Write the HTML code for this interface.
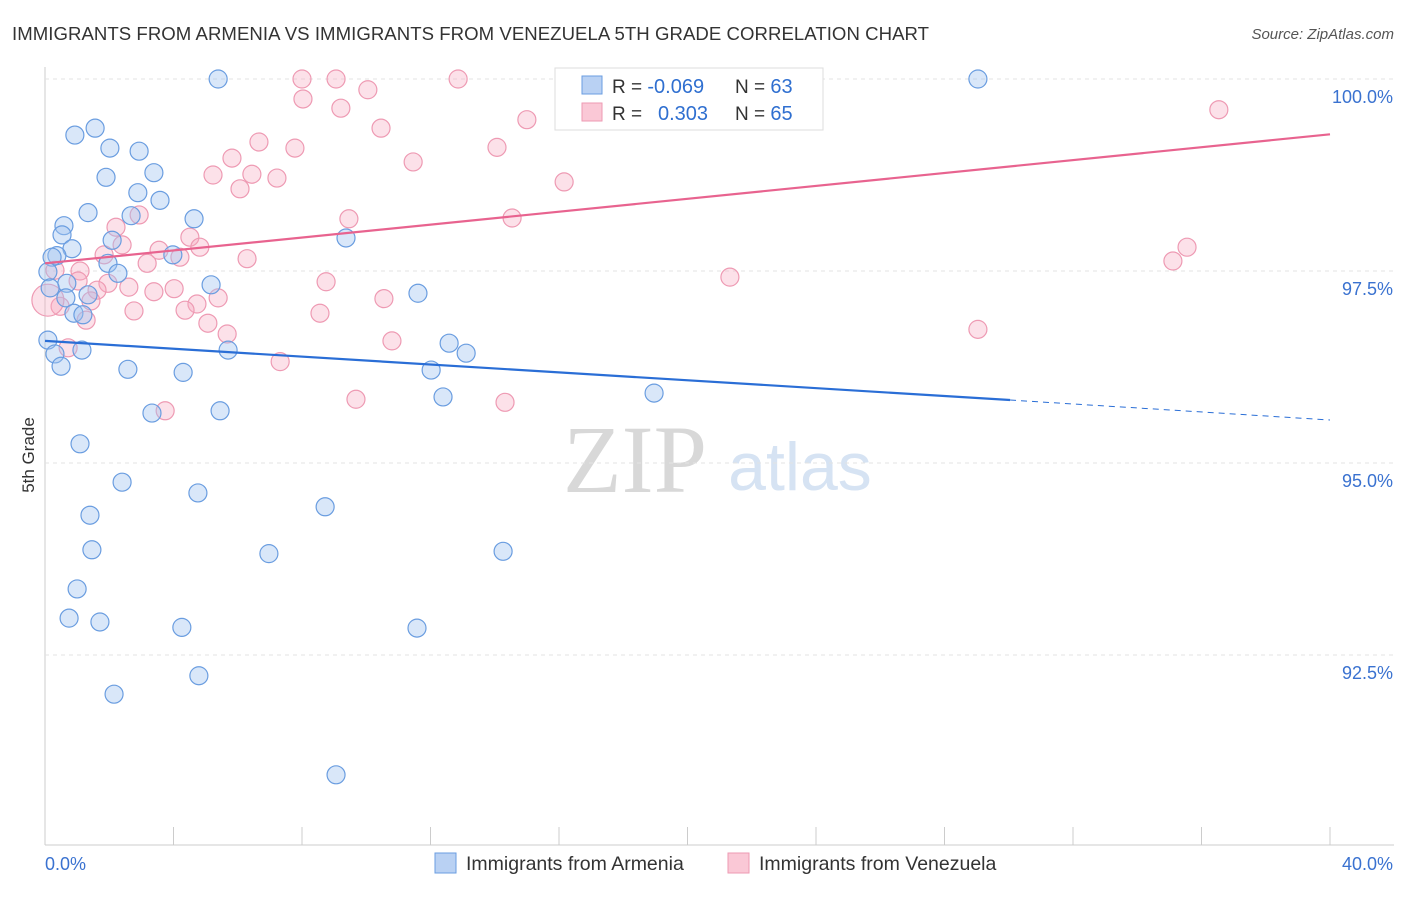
<!DOCTYPE html>
<html><head><meta charset="utf-8"><style>
body{margin:0;background:#fff;font-family:"Liberation Sans",sans-serif}
#wrap{position:relative;width:1406px;height:892px}
</style></head><body>
<div id="wrap">
<svg id="svg" width="1406" height="892" xmlns="http://www.w3.org/2000/svg">
<text x="12" y="40" font-size="18.6" fill="#333" textLength="917">IMMIGRANTS FROM ARMENIA VS IMMIGRANTS FROM VENEZUELA 5TH GRADE CORRELATION CHART</text>
<text x="1394" y="39" font-size="15" fill="#555" font-style="italic" text-anchor="end">Source: ZipAtlas.com</text>
<text x="34" y="455" font-size="17" fill="#333" text-anchor="middle" transform="rotate(-90 34 455)">5th Grade</text>
<text x="635" y="492" font-size="96" fill="#d8d8d8" font-family="Liberation Serif,serif" text-anchor="middle">ZIP</text>
<text x="800" y="490" font-size="68" fill="#d6e3f3" text-anchor="middle">atlas</text>
<g id="grid"></g><g id="pts"></g><g id="trend"></g>
<g>
<rect x="555" y="68" width="268" height="62" fill="#fff" stroke="#ddd"/>
<rect x="582" y="76" width="20" height="18" fill="#b9d1f3" stroke="#6a9de0"/>
<rect x="582" y="103" width="20" height="18" fill="#fac8d6" stroke="#ee9ab3"/>
<text x="612" y="93" font-size="19" fill="#333">R = <tspan fill="#2f6fd0" font-size="20">-0.069</tspan></text>
<text x="735" y="93" font-size="19" fill="#333">N = <tspan fill="#2f6fd0" font-size="20">63</tspan></text>
<text x="612" y="120" font-size="19" fill="#333">R = <tspan fill="#2f6fd0" x="658" font-size="20">0.303</tspan></text>
<text x="735" y="120" font-size="19" fill="#333">N = <tspan fill="#2f6fd0" font-size="20">65</tspan></text>
</g>
<g>
<rect x="435" y="853" width="21" height="20" fill="#b9d1f3" stroke="#6a9de0"/>
<text x="466" y="870" font-size="19.5" fill="#333">Immigrants from Armenia</text>
<rect x="728" y="853" width="21" height="20" fill="#fac8d6" stroke="#ee9ab3"/>
<text x="759" y="870" font-size="19.5" fill="#333">Immigrants from Venezuela</text>
</g>
</svg></div>
<script>
const blueX=[5.39,29.04,1.56,0.93,2.02,2.93,1.90,3.39,2.89,3.58,1.34,2.68,4.64,0.59,0.53,0.84,9.37,2.09,0.37,0.22,3.98,1.96,2.27,0.09,0.68,5.17,0.16,11.61,0.65,1.34,0.90,1.18,0.09,12.58,13.11,5.70,1.15,0.31,0.50,2.58,4.30,12.02,12.39,18.96,3.33,5.45,1.09,2.40,4.76,8.72,1.40,6.97,1.46,14.26,1.00,0.75,1.71,4.26,11.58,2.15,4.79,9.06];
const blueY=[100,100,99.36,99.27,99.10,99.06,98.72,98.78,98.52,98.42,98.26,98.22,98.18,98.09,97.97,97.79,97.93,97.90,97.70,97.68,97.71,97.60,97.47,97.49,97.34,97.32,97.28,97.21,97.15,97.19,96.95,96.93,96.60,96.56,96.43,96.47,96.47,96.42,96.26,96.22,96.18,96.21,95.86,95.91,95.65,95.68,95.25,94.75,94.61,94.43,94.32,93.82,93.87,93.85,93.36,92.98,92.93,92.86,92.85,91.99,92.23,90.94];
const pinkX=[8.00,9.06,12.86,21.95,8.03,9.21,10.05,36.54,15.00,10.46,6.66,7.78,14.07,5.82,11.46,5.23,6.44,7.22,6.07,16.16,2.93,9.46,14.54,2.21,4.51,2.40,3.55,4.82,1.84,4.20,3.18,6.29,35.55,35.11,1.09,0.31,1.03,1.96,1.62,8.75,21.32,3.39,4.02,2.61,5.39,10.55,1.43,4.73,0.47,4.36,2.77,8.56,1.28,5.07,5.67,29.04,10.80,0.72,7.32,9.68,14.32,3.74,0.09];
const pinkY=[100,100,100,100,99.74,99.62,99.86,99.60,99.47,99.36,99.18,99.10,99.11,98.97,98.92,98.75,98.76,98.71,98.57,98.66,98.23,98.18,98.19,98.07,97.94,97.84,97.77,97.81,97.71,97.68,97.60,97.66,97.81,97.63,97.50,97.51,97.37,97.34,97.25,97.36,97.42,97.23,97.27,97.29,97.15,97.14,97.11,97.07,97.04,96.99,96.98,96.95,96.86,96.82,96.68,96.74,96.59,96.50,96.32,95.83,95.79,95.68,97.12];
const yTicks=[100,97.5,95,92.5];
const yTickLabels=["100.0%","97.5%","95.0%","92.5%"];
const blueTrend=[[0,96.59],[30.04,95.82],[40,95.56]];
const pinkTrend=[[0,97.60],[40,99.28]];
const X0=45,X1=1330,Ytop=79,Ybot=845;
const xs=v=>X0+(v/40)*(X1-X0);
const ys=v=>Ytop+(100-v)*76.8;
const NS="http://www.w3.org/2000/svg";
function mk(t,a,p){const e=document.createElementNS(NS,t);for(const k in a)e.setAttribute(k,a[k]);p.appendChild(e);return e;}
const grid=document.getElementById('grid');
mk('line',{x1:X0,y1:Ytop-12,x2:X0,y2:Ybot,stroke:'#ccc'},grid);
mk('line',{x1:X0,y1:Ybot,x2:1394,y2:Ybot,stroke:'#ccc'},grid);
for(let i=0;i<=10;i++){const x=X0+i*(X1-X0)/10;const l=mk('line',{x1:x,y1:Ybot,x2:x,y2:Ybot-18,stroke:'#ccc'},grid);

}
yTicks.forEach((v,i)=>{const l=mk('line',{x1:X0,y1:ys(v),x2:1394,y2:ys(v),stroke:'#e3e3e3','stroke-dasharray':'4,4'},grid);


const t=mk('text',{x:1393,y:ys(v)+24,'font-size':18,fill:'#3a72d0','text-anchor':'end'},grid);t.textContent=yTickLabels[i];

});
const t0=mk('text',{x:45,y:870,'font-size':18,fill:'#3a72d0'},grid);t0.textContent='0.0%';


const t1=mk('text',{x:1393,y:870,'font-size':18,fill:'#3a72d0','text-anchor':'end'},grid);t1.textContent='40.0%';


const pts=document.getElementById('pts');
pinkX.forEach((x,i)=>{const c=mk('circle',{cx:xs(x),cy:ys(pinkY[i]),r:i==pinkX.length-1?16:9,fill:'rgba(246,170,192,0.35)',stroke:'#ee9ab3','stroke-width':1.2},pts);

});
blueX.forEach((x,i)=>{const c=mk('circle',{cx:xs(x),cy:ys(blueY[i]),r:9,fill:'rgba(160,195,240,0.4)',stroke:'#6a9de0','stroke-width':1.2},pts);

});
const tr=document.getElementById('trend');
const b1=mk('line',{x1:xs(blueTrend[0][0]),y1:ys(blueTrend[0][1]),x2:xs(blueTrend[1][0]),y2:ys(blueTrend[1][1]),stroke:'#2a6ed6','stroke-width':2.2},tr);


const b2=mk('line',{x1:xs(blueTrend[1][0]),y1:ys(blueTrend[1][1]),x2:xs(blueTrend[2][0]),y2:ys(blueTrend[2][1]),stroke:'#2a6ed6','stroke-width':1,'stroke-dasharray':'6,5'},tr);


const p1=mk('line',{x1:xs(pinkTrend[0][0]),y1:ys(pinkTrend[0][1]),x2:xs(pinkTrend[1][0]),y2:ys(pinkTrend[1][1]),stroke:'#e8638f','stroke-width':2.2},tr);


</script>
</body></html>
